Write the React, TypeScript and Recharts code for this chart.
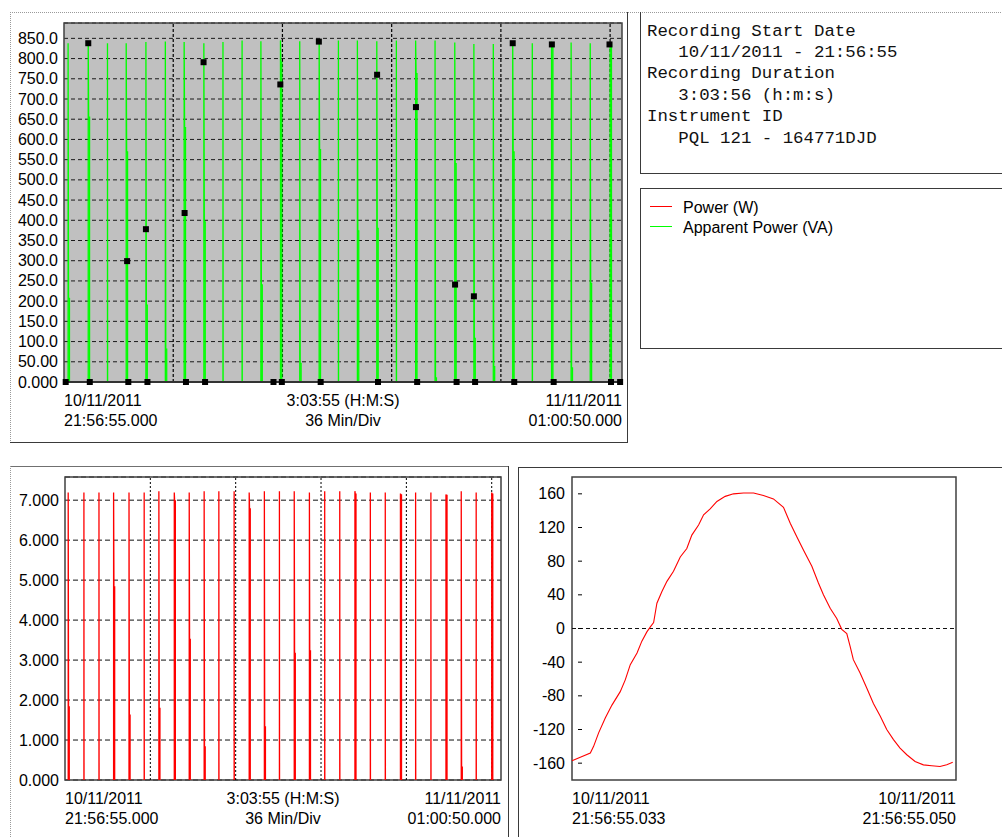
import {
  ComposedChart,
  LineChart,
  Line,
  Scatter,
  XAxis,
  YAxis,
  CartesianGrid,
  ReferenceLine,
  ReferenceArea,
} from "recharts";

const FONT = '"Liberation Sans", Arial, sans-serif';
const MONO = '"Liberation Mono", "Courier New", monospace';

// recording length in minutes (3:03:55), 36 min per division
const DURATION = 183.92;
const DIVISIONS = [36, 72, 108, 144, 180];

// one entry per load cycle (minutes from start)
const SPIKE_TIMES = [
  1.35, 7.98, 14.33, 20.5, 27.0, 33.4, 39.6, 46.1, 52.4, 58.7, 64.9, 71.35, 77.7, 84.1, 90.45,
  96.7, 103.1, 109.55, 115.9, 122.3, 128.8, 135.1, 141.5, 147.9, 154.35, 160.7, 167.15, 173.45, 180.0,
];
// apparent power: short peak, then the level it settles on (0 = none)
const VA_PEAK = [
  838, 842, 838, 838, 841, 842, 841, 838, 841, 845, 843, 845, 843, 845, 845, 845, 843, 845, 845,
  845, 840, 836, 836, 840, 838, 838, 840, 838, 836,
];
const VA_BASE = [
  207, 655, 0, 569, 190, 81, 629, 396, 0, 0, 240, 791, 46, 575, 0, 374, 380, 0, 763, 10, 540, 108,
  38, 569, 0, 836, 35, 244, 836,
];
// power
const W_PEAK = [
  7.19, 7.19, 7.19, 7.19, 7.19, 7.19, 7.225, 7.19, 7.19, 7.225, 7.225, 7.225, 7.19, 7.225, 7.225,
  7.225, 7.19, 7.225, 7.225, 7.225, 7.19, 7.19, 7.165, 7.19, 7.19, 7.14, 7.225, 7.19, 7.19,
];
const W_BASE = [
  1.83, 0, 0, 4.83, 1.62, 0, 1.79, 6.98, 3.52, 0.83, 0, 0, 6.78, 1.33, 0, 3.17, 3.23, 0, 0, 7.15,
  0, 0, 7.13, 0, 0, 7.12, 0.32, 0, 7.15,
];

// black event markers on the VA trend
const MARK_HIGH_T = [8.0, 20.8, 27.0, 39.75, 46.0, 71.3, 84.0, 103.2, 116.0, 128.9, 135.1, 147.9, 160.8, 179.8];
const MARK_HIGH_V = [838, 299, 378, 418, 791, 736, 842, 760, 680, 241, 212, 838, 835, 835];
const MARK_LOW_T = [
  0.56, 8.5, 21.2, 27.5, 40.2, 46.5, 69.05, 71.8, 84.6, 103.5, 116.4, 129.4, 135.5, 148.4, 161.4,
  180.3, 183.3,
];

const VA_MAX = 888;
const VA_TICKS = [0, 50, 100, 150, 200, 250, 300, 350, 400, 450, 500, 550, 600, 650, 700, 750, 800, 850];
const W_MAX = 7.58;
const W_TICKS = [0, 1, 2, 3, 4, 5, 6, 7];

const TREND_LABELS = [
  ["10/11/2011", "21:56:55.000"],
  ["3:03:55 (H:M:S)", "36 Min/Div"],
  ["11/11/2011", "01:00:50.000"],
];

// one mains cycle, ms from 21:56:55.033
const WAVE_SPAN = 19.9;
const WAVE_T = [
  0, 0.43, 0.95, 1.12, 1.38, 1.73, 2.07, 2.5, 2.76, 3.02, 3.37, 3.62, 3.88, 4.06, 4.23, 4.4, 4.66,
  4.92, 5.26, 5.61, 5.95, 6.21, 6.56, 6.82, 7.16, 7.51, 7.94, 8.37, 8.89, 9.41, 9.92, 10.44, 10.96,
  11.31, 11.65, 12.0, 12.43, 12.77, 13.03, 13.38, 13.72, 13.98, 14.24, 14.41, 14.58, 14.93, 15.28,
  15.62, 15.97, 16.31, 16.66, 17.0, 17.35, 17.78, 18.21, 18.64, 19.07, 19.42, 19.73,
];
const WAVE_V = [
  -157, -153, -148, -140, -124, -106, -91, -75, -61, -43, -29, -15, -4, 2, 7, 30, 44, 56, 68, 85,
  95, 111, 123, 135, 142, 151, 157, 160, 161, 161, 158, 154, 144, 125, 109, 93, 74, 54, 40, 24, 12,
  -1, -6, -21, -37, -53, -71, -89, -104, -120, -132, -142, -150, -158, -162, -163, -164, -162, -159,
];
const WAVE_TICKS = [-160, -120, -80, -40, 0, 40, 80, 120, 160];
const WAVE_LABELS = [
  ["10/11/2011", "21:56:55.033"],
  ["10/11/2011", "21:56:55.050"],
];

const INFO_LINES = [
  "Recording Start Date",
  "   10/11/2011 - 21:56:55",
  "Recording Duration",
  "   3:03:56 (h:m:s)",
  "Instrument ID",
  "   PQL 121 - 164771DJD",
];
const SERIES = [
  { name: "Power (W)", color: "#ff0000" },
  { name: "Apparent Power (VA)", color: "#00ff00" },
];

// each cycle is its own short segment; a null between them keeps the zero line undrawn
function spikeRows(peaks: number[], bases: number[]) {
  const rows: { t: number; v: number | null }[] = [];
  SPIKE_TIMES.forEach((t, i) => {
    rows.push({ t, v: 0 }, { t, v: peaks[i] });
    if (bases[i] > 0) {
      rows.push({ t: t + 0.15, v: bases[i] }, { t: t + 0.45, v: bases[i] }, { t: t + 0.45, v: 0 });
    } else {
      rows.push({ t: t + 0.05, v: 0 });
    }
    rows.push({ t: t + 0.5, v: null });
  });
  return rows;
}

const vaRows = spikeRows(VA_PEAK, VA_BASE);
const wRows = spikeRows(W_PEAK, W_BASE);
const markRows = [
  ...MARK_HIGH_T.map((t, i) => ({ t, v: MARK_HIGH_V[i] })),
  ...MARK_LOW_T.map((t) => ({ t, v: 0 })),
];
const waveRows = WAVE_T.map((t, i) => ({ t, v: WAVE_V[i] }));

function TimeTick(props: any) {
  const { x, y, payload, labels, max } = props;
  const last = labels.length - 1;
  const i = payload.value <= 0 ? 0 : payload.value >= max ? last : 1;
  const anchor = i === 0 ? "start" : i === last ? "end" : "middle";
  return (
    <text x={x} y={y} textAnchor={anchor} fontSize={16} fontFamily={FONT} fill="#000">
      <tspan x={x} dy={24}>
        {labels[i][0]}
      </tspan>
      <tspan x={x} dy={20}>
        {labels[i][1]}
      </tspan>
    </text>
  );
}

function ValueTick(props: any) {
  const { x, y, payload, fmt, mark } = props;
  return (
    <g>
      <text x={x} y={y} dy={5.5} textAnchor="end" fontSize={16} fontFamily={FONT} fill="#000">
        {fmt(payload.value)}
      </text>
      {mark && <line x1={x + 13} x2={x + 17} y1={y} y2={y} stroke="#000" />}
    </g>
  );
}

const square = (p: any) => <rect x={p.cx - 3} y={p.cy - 3} width={6} height={6} fill="#000" />;
const prec4 = (v: number) => v.toPrecision(4);

function Panels() {
  const solid = "#3a3a3a";
  const dotted = "#9a9a9a";
  return (
    <svg width={1002} height={837} style={{ position: "absolute", left: 0, top: 0 }}>
      <line x1={10} y1={12.5} x2={1002} y2={12.5} stroke={dotted} strokeDasharray="1 1" />
      <line x1={10.5} y1={12} x2={10.5} y2={442} stroke={dotted} strokeDasharray="1 1" />
      <line x1={627.5} y1={12} x2={627.5} y2={442} stroke={solid} />
      <line x1={10} y1={442.5} x2={628} y2={442.5} stroke={solid} />

      <line x1={640.5} y1={12} x2={640.5} y2={174} stroke={solid} />
      <line x1={640} y1={173.5} x2={1002} y2={173.5} stroke={solid} />
      {INFO_LINES.map((s, i) => (
        <text
          key={i}
          x={647}
          y={35.5 + i * 21.4}
          fontFamily={MONO}
          fontSize={17.4}
          fill="#111"
          style={{ whiteSpace: "pre" }}
        >
          {s}
        </text>
      ))}

      <rect x={640.5} y={188.5} width={400} height={160} fill="none" stroke={solid} />
      {SERIES.map((s, i) => (
        <g key={s.name}>
          <line x1={650} x2={672} y1={206.5 + i * 20} y2={206.5 + i * 20} stroke={s.color} />
          <text x={683} y={212.5 + i * 20} fontFamily={FONT} fontSize={16} fill="#000">
            {s.name}
          </text>
        </g>
      ))}

      <line x1={10} y1={466.5} x2={508} y2={466.5} stroke="#707070" />
      <line x1={10.5} y1={466} x2={10.5} y2={837} stroke={dotted} strokeDasharray="1 1" />
      <line x1={508.5} y1={466} x2={508.5} y2={837} stroke={solid} />

      <line x1={518.5} y1={467} x2={518.5} y2={837} stroke={solid} />
      <line x1={518} y1={467.5} x2={1002} y2={467.5} stroke={solid} />
    </svg>
  );
}

export default function App() {
  return (
    <div
      style={{
        position: "absolute",
        left: 0,
        top: 0,
        width: 1002,
        height: 837,
        background: "#fff",
        overflow: "hidden",
      }}
    >
      <Panels />

      <div style={{ position: "absolute", left: 0, top: 0 }}>
        <ComposedChart width={630} height={450} margin={{ top: 23, right: 8, bottom: 0, left: 0 }}>
          <CartesianGrid
            vertical={false}
            fill="#c0c0c0"
            stroke="#1a1a1a"
            strokeDasharray="4 3"
          />
          <XAxis
            dataKey="t"
            type="number"
            domain={[0, DURATION]}
            ticks={[0, DURATION / 2, DURATION]}
            interval={0}
            height={68}
            axisLine={false}
            tickLine={false}
            tickSize={0}
            tickMargin={0}
            tick={(p: any) => <TimeTick {...p} labels={TREND_LABELS} max={DURATION} />}
          />
          <YAxis
            type="number"
            domain={[0, VA_MAX]}
            ticks={VA_TICKS}
            interval={0}
            width={64}
            axisLine={false}
            tickLine={false}
            tickSize={4}
            tickMargin={2}
            tick={(p: any) => <ValueTick {...p} fmt={prec4} />}
          />
          {DIVISIONS.map((d) => (
            <ReferenceLine key={d} x={d} stroke="#000" strokeWidth={1.2} strokeDasharray="3 2" />
          ))}
          <Scatter data={markRows} dataKey="v" shape={square} isAnimationActive={false} />
          <Line
            data={vaRows}
            dataKey="v"
            type="linear"
            stroke="#00ff00"
            strokeWidth={1.3}
            dot={false}
            activeDot={false}
            isAnimationActive={false}
          />
          <ReferenceLine y={0} stroke="#333" strokeWidth={2} />
          <ReferenceArea x1={0} x2={DURATION} y1={0} y2={VA_MAX} fill="none" stroke="#404040" strokeWidth={1.5} />
        </ComposedChart>
      </div>

      <div style={{ position: "absolute", left: 0, top: 460 }}>
        <ComposedChart width={510} height={377} margin={{ top: 17, right: 9, bottom: 0, left: 0 }}>
          <CartesianGrid vertical={false} stroke="#111" strokeDasharray="5 3" />
          <XAxis
            dataKey="t"
            type="number"
            domain={[0, DURATION]}
            ticks={[0, DURATION / 2, DURATION]}
            interval={0}
            height={57}
            axisLine={false}
            tickLine={false}
            tickSize={0}
            tickMargin={0}
            tick={(p: any) => <TimeTick {...p} labels={TREND_LABELS} max={DURATION} />}
          />
          <YAxis
            type="number"
            domain={[0, W_MAX]}
            ticks={W_TICKS}
            interval={0}
            width={65}
            axisLine={false}
            tickLine={false}
            tickSize={4}
            tickMargin={2}
            tick={(p: any) => <ValueTick {...p} fmt={prec4} />}
          />
          {DIVISIONS.map((d) => (
            <ReferenceLine key={d} x={d} stroke="#000" strokeDasharray="2 2" />
          ))}
          <Line
            data={wRows}
            dataKey="v"
            type="linear"
            stroke="#ff0000"
            strokeWidth={1.3}
            dot={false}
            activeDot={false}
            isAnimationActive={false}
          />
          <ReferenceArea x1={0} x2={DURATION} y1={0} y2={W_MAX} fill="none" stroke="#404040" strokeWidth={1.5} />
        </ComposedChart>
      </div>

      <div style={{ position: "absolute", left: 510, top: 460 }}>
        <LineChart width={492} height={377} data={waveRows} margin={{ top: 17, right: 46, bottom: 0, left: 0 }}>
          <XAxis
            dataKey="t"
            type="number"
            domain={[0, WAVE_SPAN]}
            ticks={[0, WAVE_SPAN]}
            interval={0}
            height={57}
            axisLine={false}
            tickLine={false}
            tickSize={0}
            tickMargin={0}
            tick={(p: any) => <TimeTick {...p} labels={WAVE_LABELS} max={WAVE_SPAN} />}
          />
          <YAxis
            type="number"
            domain={[-180, 180]}
            ticks={WAVE_TICKS}
            interval={0}
            width={62}
            axisLine={false}
            tickLine={false}
            tickSize={5}
            tickMargin={2}
            tick={(p: any) => <ValueTick {...p} fmt={(v: number) => String(v)} mark />}
          />
          <ReferenceLine y={0} stroke="#111" strokeDasharray="4 3" />
          <Line
            dataKey="v"
            type="linear"
            stroke="#ff0000"
            strokeWidth={1.1}
            dot={false}
            activeDot={false}
            isAnimationActive={false}
          />
          <ReferenceArea x1={0} x2={WAVE_SPAN} y1={-180} y2={180} fill="none" stroke="#404040" strokeWidth={1.5} />
        </LineChart>
      </div>
    </div>
  );
}
